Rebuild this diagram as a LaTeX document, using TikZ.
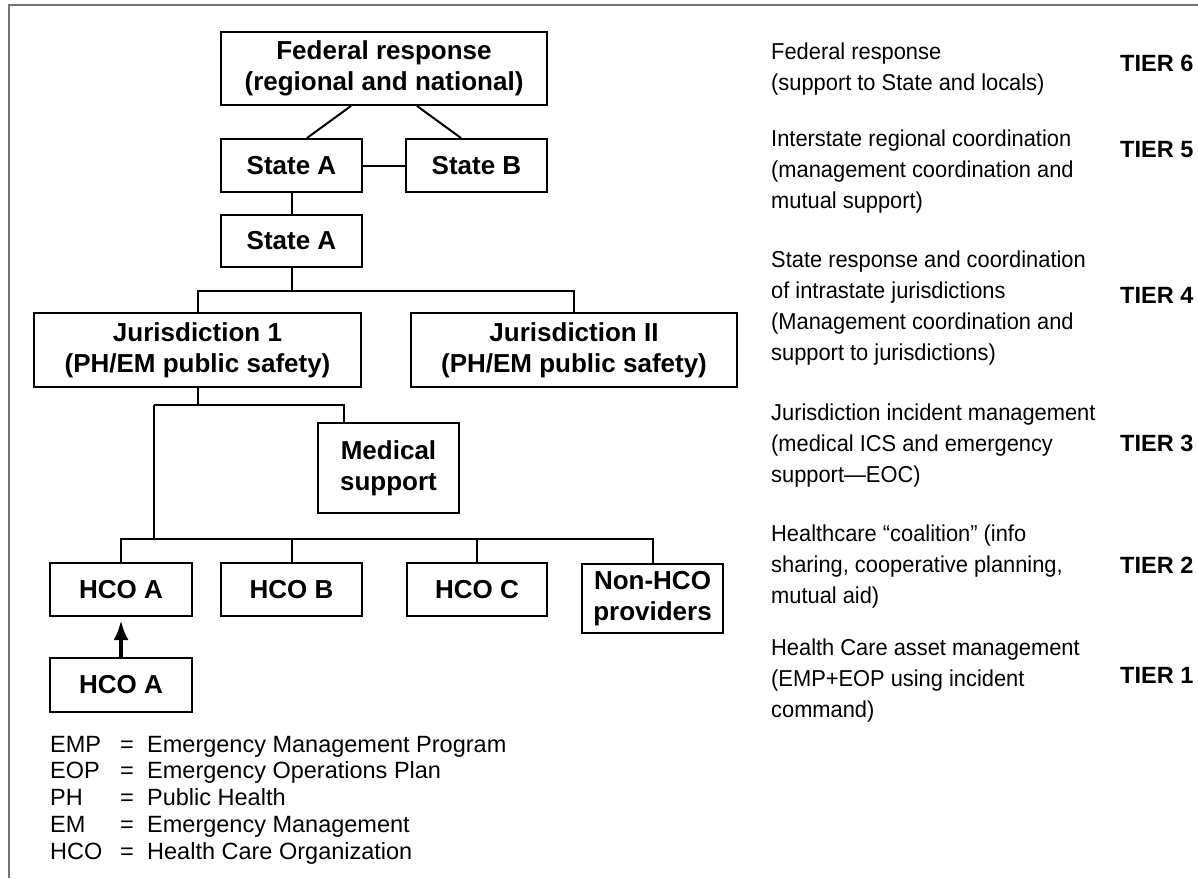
\documentclass[tikz,border=0pt]{standalone}
\usepackage{fontspec}
\setmainfont{Liberation Sans}
\newfontfamily\condfont[FakeStretch=0.95]{Liberation Sans}
\usetikzlibrary{arrows.meta}
\begin{document}
\begin{tikzpicture}[x=1pt,y=-1pt,
  box/.style={draw=black,line width=2pt,inner sep=0pt,align=center,
    font=\fontsize{26}{31}\selectfont\bfseries},
  conn/.style={line width=2pt,black},
  upar/.style={line width=4pt,-{Latex[length=20pt,width=15pt]},shorten >=3pt},
  tiertext/.style={anchor=base west,align=left,inner sep=0pt,
    font=\condfont\fontsize{23}{31}\selectfont},
  tierlabel/.style={anchor=base west,inner sep=0pt,
    font=\fontsize{23.5}{28}\selectfont\bfseries},
  legend/.style={anchor=base west,align=left,inner sep=0pt,
    font=\fontsize{23.5}{26.75}\selectfont}]
\useasboundingbox (0,0) rectangle (1198,878);
\fill[white] (0,0) rectangle (1198,878);
% frame
\draw[black!55,line width=2pt] (9,878) -- (9,5) -- (1198,5);

% boxes
\node[box,minimum width=326pt,minimum height=73pt] (fed) at (384,68.5)
  {Federal response\\(regional and national)};
\node[box,minimum width=141pt,minimum height=53pt] (sa) at (291.5,165.5) {State A};
\node[box,minimum width=141pt,minimum height=53pt] (sb) at (476.5,165.5) {State B};
\node[box,minimum width=141pt,minimum height=52pt] (sa2) at (291.5,241) {State A};
\node[box,minimum width=327pt,minimum height=74pt] (jur1) at (197.5,350)
  {Jurisdiction 1\\(PH/EM public safety)};
\node[box,minimum width=326pt,minimum height=74pt] (jur2) at (574,350)
  {Jurisdiction II\\(PH/EM public safety)};
\node[box,minimum width=141pt,minimum height=90pt] (med) at (388.5,468)
  {Medical\\support};
\node[box,minimum width=142pt,minimum height=53pt] (hcoa) at (121,589.5) {HCO A};
\node[box,minimum width=141pt,minimum height=53pt] (hcob) at (291.5,589.5) {HCO B};
\node[box,minimum width=140pt,minimum height=53pt] (hcoc) at (477,589.5) {HCO C};
\node[box,minimum width=141pt,minimum height=69pt] (nonhco) at (652.5,598.5)
  {Non-HCO\\providers};
\node[box,minimum width=142pt,minimum height=54pt] (hcoa2) at (121,685) {HCO A};

% connectors
\draw[conn] ([xshift=-33pt]fed.south) -- ([xshift=15.5pt]sa.north);
\draw[conn] ([xshift=33pt]fed.south) -- ([xshift=-15.5pt]sb.north);
\draw[conn] (sa.east) -- (sb.west);
\draw[conn] (sa.south) -- (sa2.north);
\coordinate (bus1) at (291.5,291);
\draw[conn] (sa2.south) -- (bus1);
\draw[conn] (jur1.north) |- (bus1) -| (jur2.north);
\coordinate (bus2l) at (154,405);
\coordinate (bus2r) at (344,405);
\draw[conn] (jur1.south) -- (jur1.south |- bus2l);
\draw[conn] (bus2l) -- (bus2r) -- (bus2r |- med.north);
\coordinate (bus3) at (154,539);
\draw[conn] (bus2l) -- (bus3);
\draw[conn] (hcoa.north) |- (bus3) -| (nonhco.north);
\draw[conn] (hcob.north) -- (hcob.north |- bus3);
\draw[conn] (hcoc.north) -- (hcoc.north |- bus3);
\draw[upar] (hcoa2.north) -- (hcoa.south);

% legend (anchor = baseline of last line)
\node[legend] (leg) at (50,859)
  {\makebox[70pt][l]{EMP}\makebox[27pt][l]{=}Emergency Management Program\\
   \makebox[70pt][l]{EOP}\makebox[27pt][l]{=}Emergency Operations Plan\\
   \makebox[70pt][l]{PH}\makebox[27pt][l]{=}Public Health\\
   \makebox[70pt][l]{EM}\makebox[27pt][l]{=}Emergency Management\\
   \makebox[70pt][l]{HCO}\makebox[27pt][l]{=}Health Care Organization};

% tier descriptions (anchor = baseline of last line)
\node[tiertext] (t6) at (771,90) {Federal response\\(support to State and locals)};
\node[tiertext] (t5) at (771,208) {Interstate regional coordination\\(management coordination and\\mutual support)};
\node[tiertext] (t4) at (771,360) {State response and coordination\\of intrastate jurisdictions\\(Management coordination and\\support to jurisdictions)};
\node[tiertext] (t3) at (771,482) {Jurisdiction incident management\\(medical ICS and emergency\\support—EOC)};
\node[tiertext] (t2) at (771,603) {Healthcare “coalition” (info\\sharing, cooperative planning,\\mutual aid)};
\node[tiertext] (t1) at (771,717) {Health Care asset management\\(EMP+EOP using incident\\command)};

\node[tierlabel] (l6) at (1120,71) {TIER 6};
\node[tierlabel] (l5) at (1120,157) {TIER 5};
\node[tierlabel] (l4) at (1120,303) {TIER 4};
\node[tierlabel] (l3) at (1120,451) {TIER 3};
\node[tierlabel] (l2) at (1120,573) {TIER 2};
\node[tierlabel] (l1) at (1120,683) {TIER 1};
\end{tikzpicture}
\end{document}
